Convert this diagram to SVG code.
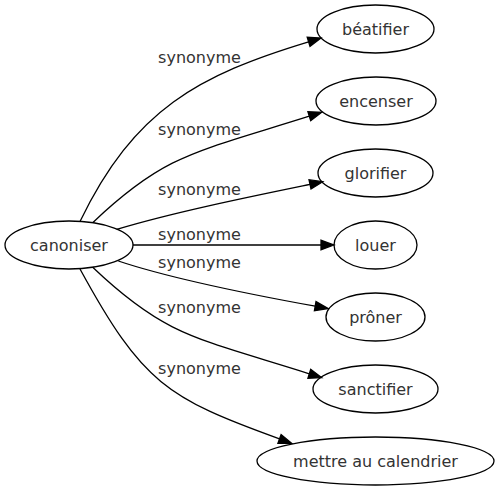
<svg xmlns="http://www.w3.org/2000/svg" width="499" height="491" viewBox="0 0 499 491">
<style>
.node ellipse{fill:none;stroke:#000;stroke-width:1.3}
text{font-family:"DejaVu Sans",sans-serif;font-size:16px;fill:#333;text-anchor:middle}
.edge path{fill:none;stroke:#000;stroke-width:1.3}
.edge polygon{fill:#000;stroke:#000;stroke-width:1.3}
</style>
<rect width="499" height="491" fill="#fff"/>
<g id="connectors">
<g class="edge" id="e1"><path d="M80,221.5 C134.4,109 198.5,75.2 308.6,41.8"/><polygon points="321,38 310,46.3 307.2,37.3"/><text x="199.5" y="62.5">synonyme</text></g>
<g class="edge" id="e2"><path d="M92.7,222.7 C165.1,153.7 194.9,152.4 309.3,116.2"/><polygon points="321.7,112.3 310.7,120.7 307.9,111.7"/><text x="199.5" y="135">synonyme</text></g>
<g class="edge" id="e3"><path d="M116.7,229.3 C174.2,212 251.2,196.4 310,184.3"/><polygon points="322.7,181.7 311,189 309,179.7"/><text x="199.5" y="195">synonyme</text></g>
<g class="edge" id="e4"><path d="M133,245 L321,245"/><polygon points="334,245 321,249.7 321,240.3"/><text x="199.5" y="239.5">synonyme</text></g>
<g class="edge" id="e5"><path d="M118.3,261 C175.2,280 256.2,295.5 315.2,306.2"/><polygon points="328,308.5 314.4,310.8 316,301.6"/><text x="199.5" y="268">synonyme</text></g>
<g class="edge" id="e6"><path d="M92.7,267.3 C165.1,336.3 194.9,337.6 309.3,373.8"/><polygon points="321.7,377.7 307.9,378.3 310.7,369.3"/><text x="199.5" y="313">synonyme</text></g>
<g class="edge" id="e7"><path d="M80,269 C142.3,383.1 166.7,398.1 279.5,438.9"/><polygon points="291.7,443.3 277.9,443.3 281.1,434.5"/><text x="199.5" y="374">synonyme</text></g>
</g>
<g class="node" id="canoniser"><ellipse cx="69" cy="245" rx="64" ry="24"/><text x="69" y="250.5">canoniser</text></g>
<g class="node" id="beatifier"><ellipse cx="375.5" cy="29" rx="58.5" ry="24"/><text x="375.5" y="34.5">béatifier</text></g>
<g class="node" id="encenser"><ellipse cx="376" cy="101" rx="60" ry="24"/><text x="376" y="106.5">encenser</text></g>
<g class="node" id="glorifier"><ellipse cx="375.5" cy="173" rx="57.5" ry="24"/><text x="375.5" y="178.5">glorifier</text></g>
<g class="node" id="louer"><ellipse cx="375.5" cy="245" rx="41.5" ry="24"/><text x="375.5" y="250.5">louer</text></g>
<g class="node" id="proner"><ellipse cx="375.5" cy="317" rx="49.5" ry="24"/><text x="375.5" y="322.5">prôner</text></g>
<g class="node" id="sanctifier"><ellipse cx="375.5" cy="389" rx="62.5" ry="24"/><text x="375.5" y="394.5">sanctifier</text></g>
<g class="node" id="mettre"><ellipse cx="375.5" cy="461" rx="118.5" ry="24"/><text x="375.5" y="466.5">mettre au calendrier</text></g>
</svg>
